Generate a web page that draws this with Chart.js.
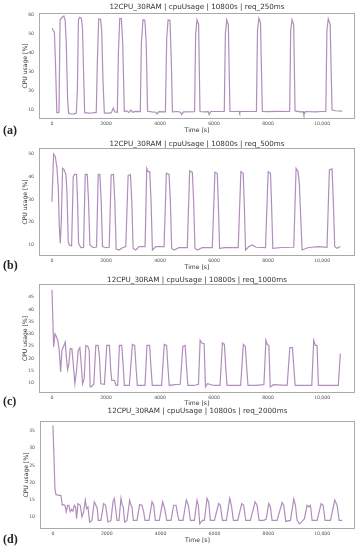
<!DOCTYPE html>
<html>
<head>
<meta charset="utf-8">
<script src="https://cdn.jsdelivr.net/npm/chart.js@4.4.1/dist/chart.umd.min.js"></script>
<style>
  html, body { margin: 0; padding: 0; background: #fff; }
  body { width: 362px; height: 550px; position: relative; overflow: hidden; }
  canvas { position: absolute; left: 0; }
  .tag { position: absolute; left: 3px; font: bold 12px 'Liberation Serif', serif; color: #222; line-height: 12px; }
</style>
</head>
<body>
<script>
const titles = [
  '12CPU_30RAM | cpuUsage | 10800s | req_250ms',
  '12CPU_30RAM | cpuUsage | 10800s | req_500ms',
  '12CPU_30RAM | cpuUsage | 10800s | req_1000ms',
  '12CPU_30RAM | cpuUsage | 10800s | req_2000ms',
];
const tags = ['(a)', '(b)', '(c)', '(d)'];
const xTicks = [0, 2000, 4000, 6000, 8000, 10000];
const xTickLabels = ['0', '2000', '4000', '6000', '8000', '10,000'];
const yTicksA = [10, 20, 30, 40, 50, 60];
const yTicksB = [10, 20, 30, 40, 50];
const yTicksC = [10, 15, 20, 25, 30, 35, 40, 45];
const yTicksD = [10, 15, 20, 25, 30, 35];

// req_250ms
const timeA = [0,90,130,180,260,300,380,440,490,530,580,620,700,800,900,940,980,1030,1090,1130,1170,1210,1350,1500,1640,1680,1730,1800,1840,1890,1940,2100,2200,2270,2330,2420,2460,2510,2570,2620,2680,2760,2850,2920,2990,3080,3270,3310,3370,3440,3490,3540,3700,3850,3890,3960,4200,4250,4300,4370,4420,4460,4650,4760,4800,4870,5280,5320,5370,5430,5480,5650,5790,5820,5880,6380,6420,6470,6530,6590,6800,6930,6950,6980,7570,7610,7660,7720,7790,8000,8300,8800,8840,8890,8950,9000,9200,9300,9330,9380,9750,10000,10140,10180,10230,10300,10370,10500,10750];
const cpuA = [53,51,35,8.6,8.7,57.5,58.8,59.5,57,45,15,8.2,7.9,8,8.3,20,57.5,58.8,58.2,53,30,8.6,8.4,8.5,8.7,35,57.9,57.7,52,25,8.3,8.4,8.6,11,9,8.8,40,58.3,58,45,9.2,9.5,8.7,9.9,8.8,9.3,9.2,45,57.5,57.2,45,9.3,9,8.8,7.9,9.1,9,48,57.5,57,35,9,9.2,8.8,7.6,9,9.1,50,57.5,55,9.2,9,9.1,7.6,9.2,9.3,50,57.5,55,9.3,9.2,9.3,8.4,9.2,9.2,52,58.3,56,9.3,9.1,9.3,9.2,52,57.5,55,9.5,9,9.1,7.4,9.2,9,9.2,9.3,52,58,55,10,9.6,9.4];

// req_500ms
const timeB = [0,60,125,185,234,270,308,345,394,456,517,554,603,640,727,788,837,911,948,985,1071,1170,1231,1305,1355,1404,1527,1650,1712,1773,1823,1872,1995,2120,2192,2278,2328,2377,2488,2610,2734,2820,2906,2956,3005,3103,3230,3448,3510,3559,3621,3670,3719,3842,4150,4236,4335,4384,4433,4520,4700,5012,5098,5197,5246,5295,5382,5560,5936,6034,6120,6158,6207,6400,6896,6995,7081,7118,7167,7290,7413,7560,7906,8005,8091,8128,8177,8500,8953,9039,9113,9162,9211,9261,9500,9876,10184,10271,10369,10418,10468,10554,10677];
const cpuB = [29,50,48.8,43.7,35,18.8,10.7,20,43.7,43,40.8,33.4,11.5,10,9.6,40,41,41,29,10.7,8.8,8.9,41,41,29,10,8.8,9.1,41,41,29,9.3,8.8,9,40.8,41,29,8.2,7.8,8.8,9.3,40.5,41,29,8.5,7.8,9.3,9.3,43.7,42.2,42.2,29,7.8,9.3,9.3,41.5,41,29,8.5,7.8,8.8,8.8,42.5,42,29,8.5,7.8,8.8,8.8,42,41.5,29,8.5,8.8,8.8,42.2,41.5,29,7.8,9.3,10,9,8.8,42.2,41.5,29,8.5,8.9,9,43.7,42.2,36.4,21.7,7.8,8.9,9.3,9,43,43.4,29,9.3,8.5,9.3];

// req_1000ms
const timeC = [0,62,111,172,221,270,320,369,443,492,541,578,627,677,738,787,849,910,972,1033,1082,1132,1193,1255,1328,1378,1414,1476,1550,1624,1710,1759,1808,1943,2030,2128,2177,2214,2312,2374,2435,2497,2583,2632,2681,2866,2977,3063,3112,3161,3296,3444,3518,3616,3665,3715,3911,4059,4157,4244,4293,4342,4550,4748,4846,4932,4982,5031,5250,5424,5486,5547,5633,5683,5756,6000,6224,6310,6384,6433,6482,6750,6986,7085,7159,7208,7257,7550,7847,7921,7970,8032,8081,8200,8708,8807,8905,8954,9004,9300,9619,9692,9754,9815,9865,10200,10603,10676];
const cpuC = [48,24.7,30,28.7,27.1,23.3,14.5,23.3,25.3,26.7,19.5,15.4,17.9,24,24,17.9,9.7,15.2,23.3,24.4,17.9,9.7,11.8,25.3,24.9,23.3,8.4,8.6,9.6,25.3,25.3,20.6,9.7,9.5,25.3,25.3,15.2,11.1,11.1,9,9,25.3,25.3,17.9,9,9,25.7,25.3,16.5,9,9,9,25.3,25.3,16.5,9,9,9,25.7,25.3,16.5,9,9.3,9.5,24.9,25.3,16.5,9,9,9.5,27.4,26.3,26,8.4,9.7,9,9,26.3,25.7,16.5,9,9,9,25.7,24.9,16.5,9,9,9.3,27.4,25.7,25.3,8.4,9.3,9,24.4,24.4,16.5,9,9,9,27.4,25.3,25.3,9,9,9,22];

// req_2000ms
const timeD = [0,37,74,112,211,297,347,396,446,496,545,595,644,694,743,793,843,880,929,1016,1078,1140,1202,1251,1301,1363,1450,1536,1598,1648,1685,1784,1883,1958,2007,2044,2156,2230,2280,2329,2379,2453,2528,2577,2614,2664,2751,2850,2899,2936,2986,3122,3221,3308,3370,3420,3568,3680,3742,3804,3952,4076,4151,4225,4386,4485,4572,4634,4683,4832,4956,5030,5105,5253,5352,5402,5452,5551,5625,5724,5786,5848,5997,6158,6220,6294,6443,6567,6629,6703,6864,7013,7087,7161,7335,7508,7583,7657,7831,7917,8016,8078,8140,8326,8512,8574,8648,8822,8946,9007,9069,9156,9255,9342,9441,9503,9565,9627,9813,9962,10036,10110,10308,10469,10556,10631,10742];
const cpuD = [36.6,28,18.3,16.5,16.3,16.3,13.4,13.6,13.4,11.5,13.4,13.4,11.5,12.2,11.7,13.4,12.9,9.5,13.9,13.4,10,11.5,14.9,12.4,12.9,8.5,9,14.4,13.4,12.4,9,9,13.9,13.4,10.5,8.5,9,14.4,15.4,12.4,9,9,15.4,13.4,12.9,8.5,9,14.9,13.4,12.9,9,9,13.6,13.4,11.5,9,9,14.4,13.4,9,9,14.4,12.4,9,9,13.4,13.4,10.5,9,9,14.9,13.4,9,9,14.9,13.4,8,9,9,15.4,14.2,9,9,13.9,13.4,9,9,15.4,13.4,9,9,13.9,13.4,9,9,14.4,13.4,9,9,9.3,13.9,12.9,9,9,14.2,13.4,8.7,9,15.2,13.4,9,8,8.7,9.5,13.4,12.9,13.4,9,9,13.9,13.4,9,9,14.9,13.4,9,9];

const panels = [
  { top: 0,   height: 140, plotTop: 13,  plotBottom: 119, left: 39, titleY: 7,    timePad: 6.4, tagY: 130, yMin: 5.26, yMax: 61.05, time: timeA, cpu: cpuA, yTicks: yTicksA },
  { top: 135, height: 140, plotTop: 148, plotBottom: 256, left: 39, titleY: 9.5,  timePad: 4.4, tagY: 265, yMin: 5.16, yMax: 52.6,  time: timeB, cpu: cpuB, yTicks: yTicksB },
  { top: 272, height: 140, plotTop: 284, plotBottom: 393, left: 39, titleY: 8.3,  timePad: 4.9, tagY: 401, yMin: 5.93, yMax: 50.3,  time: timeC, cpu: cpuC, yTicks: yTicksC },
  { top: 402, height: 148, plotTop: 421, plotBottom: 529, left: 40, titleY: 9.5,  timePad: 6.4, tagY: 539, yMin: 6.5,  yMax: 37.9,  time: timeD, cpu: cpuD, yTicks: yTicksD },
];

const LINE = '#b08ebb';
const tickFont = { family: 'DejaVu Sans', size: 4.6 };
const labelFont = { family: 'DejaVu Sans', size: 6.1 };

// box round the plot area plus the panel title
const framePlugin = {
  id: 'frame',
  afterDraw(chart, args, opts) {
    const { ctx, chartArea: a } = chart;
    ctx.save();
    ctx.strokeStyle = '#aaaaaa';
    ctx.lineWidth = 1;
    ctx.strokeRect(a.left + 0.5, a.top + 0.5, a.right - a.left - 1, a.bottom - a.top - 1);
    ctx.fillStyle = '#333';
    ctx.font = "7.2px 'DejaVu Sans'";
    ctx.textAlign = 'center';
    ctx.textBaseline = 'middle';
    ctx.fillText(opts.text, (a.left + a.right) / 2, opts.y);
    ctx.restore();
  }
};

panels.forEach((p, k) => {
  const canvas = document.createElement('canvas');
  canvas.width = 362;
  canvas.height = p.height;
  canvas.style.top = p.top + 'px';
  document.body.appendChild(canvas);

  const tag = document.createElement('div');
  tag.className = 'tag';
  tag.textContent = tags[k];
  tag.style.top = (p.tagY - 6) + 'px';
  document.body.appendChild(tag);

  new Chart(canvas.getContext('2d'), {
    type: 'line',
    data: {
      datasets: [{
        data: p.time.map((t, i) => ({ x: t, y: p.cpu[i] })),
        borderColor: LINE,
        borderWidth: 1.2,
        pointRadius: 0,
        tension: 0,
        fill: false,
      }],
    },
    options: {
      responsive: false,
      animation: false,
      layout: { padding: { top: p.plotTop - p.top, right: 7, bottom: 0, left: 0 } },
      plugins: {
        legend: { display: false },
        tooltip: { enabled: false },
        frame: { text: titles[k], y: p.titleY },
      },
      scales: {
        x: {
          type: 'linear',
          min: -480,
          max: 11220,
          afterFit: s => { s.height = p.top + p.height - p.plotBottom; },
          afterBuildTicks: s => { s.ticks = xTicks.map(v => ({ value: v })); },
          grid: { display: false, drawTicks: false },
          border: { display: false },
          ticks: {
            padding: 2,
            color: '#555',
            font: tickFont,
            maxRotation: 0,
            autoSkip: false,
            callback: (v, i) => xTickLabels[i],
          },
          title: { display: true, text: 'Time [s]', color: '#333', font: labelFont, padding: { top: 0, bottom: p.timePad } },
        },
        y: {
          min: p.yMin,
          max: p.yMax,
          afterFit: s => { s.width = p.left; },
          afterBuildTicks: s => { s.ticks = p.yTicks.map(v => ({ value: v })); },
          grid: { display: false, drawTicks: false },
          border: { display: false },
          ticks: { padding: 5, color: '#555', font: tickFont, autoSkip: false },
          title: { display: true, text: 'CPU usage [%]', color: '#333', font: labelFont, padding: { top: 21.3 + (p.left - 39), bottom: 0 } },
        },
      },
    },
    plugins: [framePlugin],
  });
});
</script>
</body>
</html>
